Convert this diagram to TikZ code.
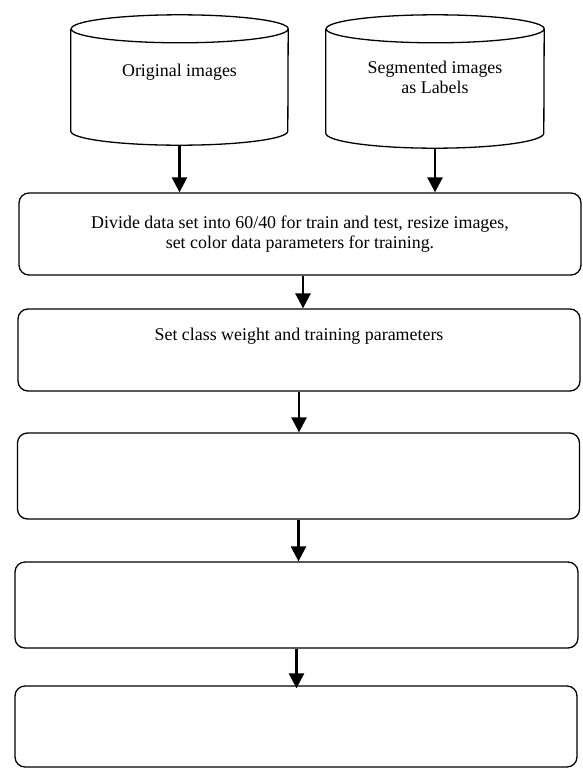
\documentclass[tikz,border=0pt]{standalone}
\usepackage{fontspec}
\setmainfont{Liberation Serif}
\usetikzlibrary{arrows.meta, positioning}
\tikzset{
  db/.style = {minimum width=217pt, minimum height=130pt, inner sep=0pt},
  dbline/.style = {line width=1.3pt, line join=round},
  stepbox/.style = {draw, rounded corners=10pt, line width=1.3pt, minimum width=562pt,
    minimum height=82pt, align=center, inner sep=0pt},
  flow/.style = {-{Triangle[length=15pt, width=15pt]}, line width=2.6pt}
}

\begin{document}
\begin{tikzpicture}[x=1pt, y=-1pt, font=\fontsize{17.9}{20.5}\selectfont]
  \useasboundingbox (0,0) rectangle (582,769);

  % Databases
  \node[db] (orig) at (179.5,80) {};
  \node[db, minimum width=218pt, minimum height=133pt] (seg) at (435,81.5) {};
  \draw[dbline] ([yshift=-14pt]orig.north west) -- ([yshift=14pt]orig.south west)
    arc[start angle=180, end angle=360, x radius=108.5pt, y radius=14pt]
    -- ([yshift=-14pt]orig.north east)
    arc[start angle=0, end angle=360, x radius=108.5pt, y radius=14pt];
  \draw[dbline] ([yshift=-14pt]seg.north west) -- ([yshift=15pt]seg.south west)
    arc[start angle=180, end angle=360, x radius=109pt, y radius=15pt]
    -- ([yshift=-14pt]seg.north east)
    arc[start angle=0, end angle=360, x radius=109pt, y radius=14pt];
  \node (origtxt) at (179.5,72) {Original images};
  \node[align=center] (segtxt) at (435,77.5) {Segmented images\\as Labels};

  % Steps
  \node[stepbox] (prep) at (300,234) {Divide data set into 60/40 for train and test, resize images,\\set color data parameters for training.};
  \node[stepbox] (weights) at (299,350) {};
  \node (weightstxt) at ([yshift=-28pt]weights.north) {Set class weight and training parameters};
  \node[stepbox, minimum height=86pt] (stepc) at (298.5,476) {};
  \node[stepbox, minimum height=86pt, minimum width=563pt] (stepd) at (296.5,605) {};
  \node[stepbox, minimum height=81pt] (stepe) at (296,726.5) {};

  % Arrows
  \draw[flow] (orig.south) -- (orig.south |- prep.north);
  \draw[flow] (seg.south) -- (seg.south |- prep.north);
  \draw[flow] ([xshift=3pt]prep.south) -- ([xshift=3pt]prep.south |- weights.north);
  \draw[flow] (weights.south) -- (weights.south |- stepc.north);
  \draw[flow] (stepc.south) -- (stepc.south |- stepd.north);
  \draw[flow] (stepd.south) -- ([yshift=-3pt]stepd.south |- stepe.north);

\end{tikzpicture}
\end{document}
